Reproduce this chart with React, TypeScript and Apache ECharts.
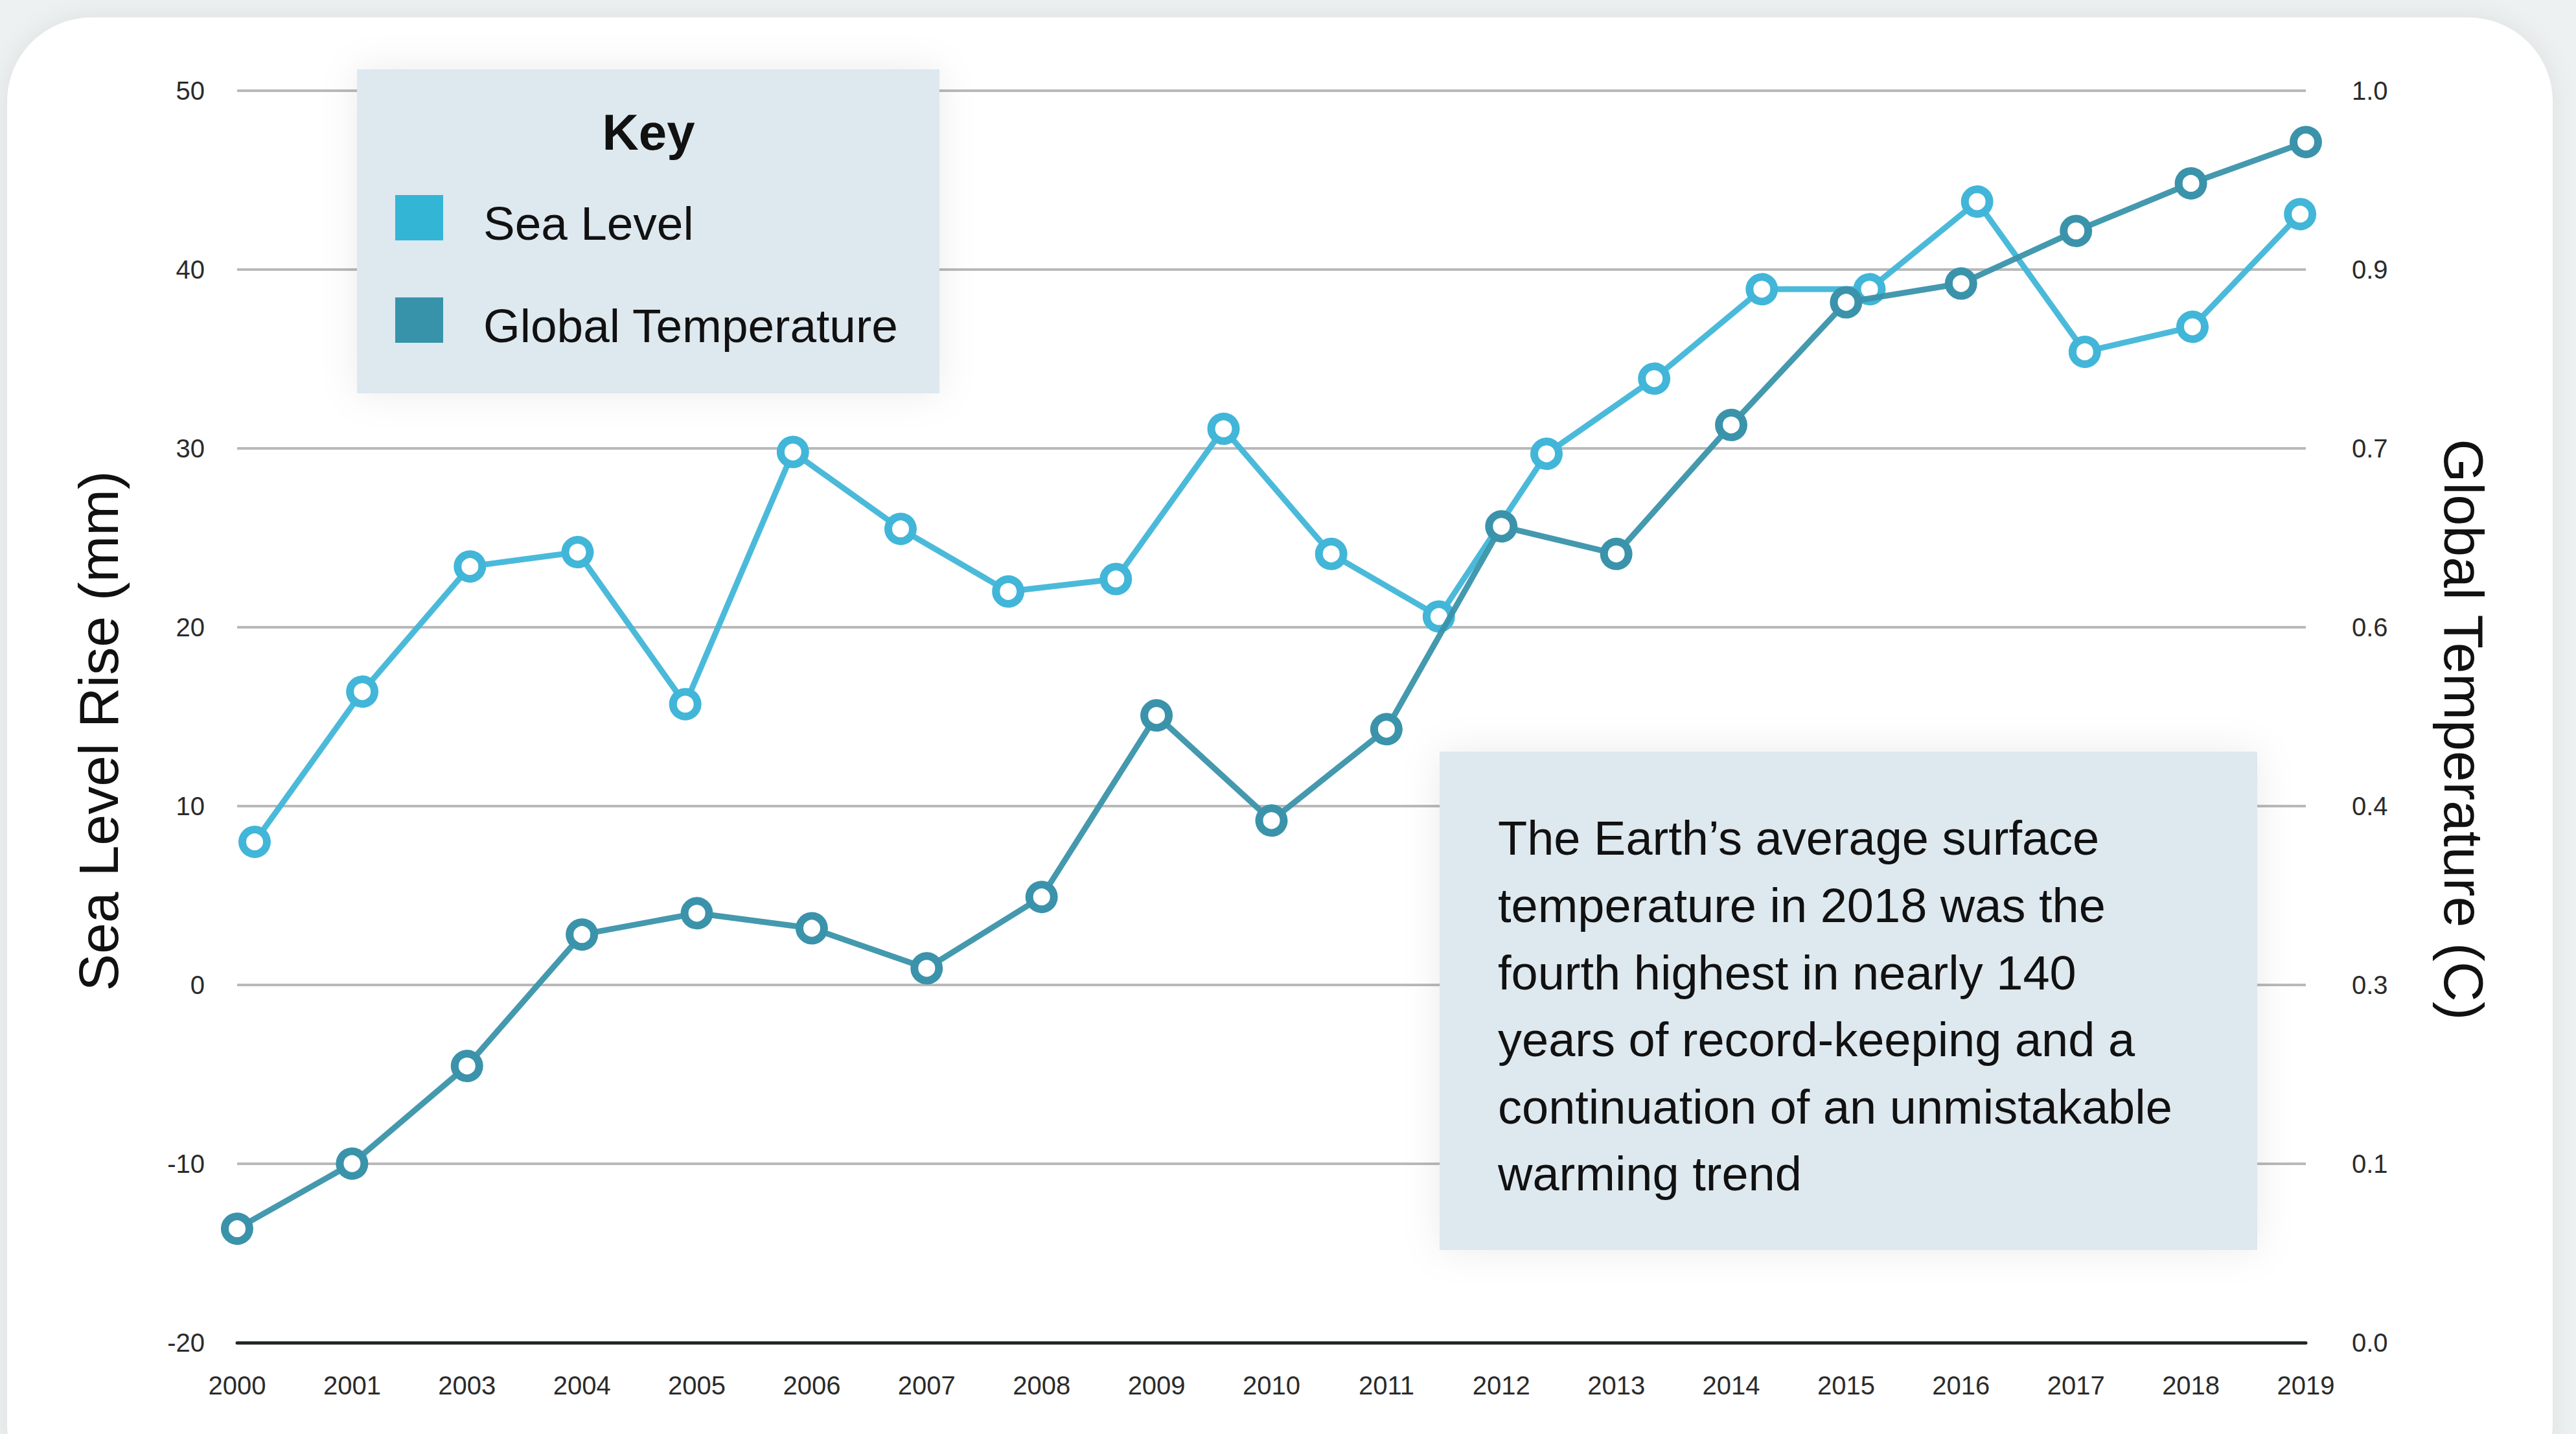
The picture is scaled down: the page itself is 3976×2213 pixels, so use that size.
import React, { useEffect, useRef } from 'react';
import * as echarts from 'echarts';

// ---- data ----
const years = ['2000', '2001', '2003', '2004', '2005', '2006', '2007', '2008', '2009', '2010', '2011', '2012', '2013', '2014', '2015', '2016', '2017', '2018', '2019'];
const globalTemperature = [0.091, 0.143, 0.221, 0.326, 0.343, 0.331, 0.299, 0.356, 0.501, 0.417, 0.49, 0.652, 0.63, 0.733, 0.831, 0.846, 0.888, 0.926, 0.959];
const seaLevel = [8.0, 16.4, 23.4, 24.2, 15.7, 29.8, 25.5, 22.0, 22.7, 31.1, 24.1, 20.6, 29.7, 33.9, 38.9, 38.9, 43.8, 35.4, 36.8, 43.1];
const seaAxis = { min: -20, max: 50, interval: 10 };
const tempAxis = { min: 0, max: 1, steps: 7 };
const keyTitle = 'Key';
const seriesNames = ['Sea Level', 'Global Temperature'];
const leftTitle = 'Sea Level Rise (mm)';
const rightTitle = 'Global Temperature (C)';
const noteLines = [
  'The Earth\u2019s average surface',
  'temperature in 2018 was the',
  'fourth highest in nearly 140',
  'years of record-keeping and a',
  'continuation of an unmistakable',
  'warming trend',
];

const FONT = '"Liberation Sans", Arial, Helvetica, sans-serif';
const SEA_COLOR = '#41b6d8';
const TEMP_COLOR = '#3a93aa';
const SEA_SWATCH = '#33b5d6';
const TEMP_SWATCH = '#3793aa';
const BOX_FILL = '#dee8ef';

export default function App() {
  const ref = useRef<HTMLDivElement>(null);

  useEffect(() => {
    document.body.style.margin = '0';
    const chart = echarts.init(ref.current as HTMLDivElement, null, { renderer: 'svg', width: 3976, height: 2213 });

    const option: any = {
      animation: false,
      backgroundColor: '#eef1f1',
      textStyle: { fontFamily: FONT },
      grid: { left: 366, right: 417, top: 140, bottom: 141, containLabel: false },
      xAxis: [
        {
          type: 'category',
          data: years,
          boundaryGap: false,
          axisLine: { show: true, onZero: false, lineStyle: { color: '#222826', width: 5 } },
          axisTick: { show: false },
          axisLabel: { interval: 0, fontSize: 40, color: '#2b2b2b', margin: 46, fontFamily: FONT },
          splitLine: { show: false },
        },
        {
          type: 'value',
          min: -0.1625,
          max: 19.053,
          show: false,
          splitLine: { show: false },
        },
      ],
      yAxis: [
        {
          type: 'value',
          min: seaAxis.min,
          max: seaAxis.max,
          interval: seaAxis.interval,
          axisLine: { show: false },
          axisTick: { show: false },
          axisLabel: { fontSize: 40, color: '#2b2b2b', margin: 50, fontFamily: FONT },
          splitLine: { show: true, lineStyle: { color: '#b9b9b9', width: 4 } },
        },
        {
          type: 'value',
          position: 'right',
          min: tempAxis.min,
          max: tempAxis.max,
          interval: (tempAxis.max - tempAxis.min) / tempAxis.steps,
          axisLine: { show: false },
          axisTick: { show: false },
          splitLine: { show: false },
          axisLabel: {
            fontSize: 40,
            color: '#2b2b2b',
            margin: 71,
            fontFamily: FONT,
            formatter: (v: number) => v.toFixed(1),
          },
        },
      ],
      series: [
        {
          name: seriesNames[0],
          type: 'line',
          xAxisIndex: 1,
          yAxisIndex: 0,
          data: seaLevel.map((v, i) => [i, v]),
          symbol: 'circle',
          symbolSize: 38,
          itemStyle: { color: '#ffffff', borderColor: SEA_COLOR, borderWidth: 12 },
          lineStyle: { color: SEA_COLOR, width: 9, opacity: 0.95 },
          z: 3,
        },
        {
          name: seriesNames[1],
          type: 'line',
          xAxisIndex: 0,
          yAxisIndex: 1,
          data: globalTemperature,
          symbol: 'circle',
          symbolSize: 38,
          itemStyle: { color: '#ffffff', borderColor: TEMP_COLOR, borderWidth: 12 },
          lineStyle: { color: TEMP_COLOR, width: 9, opacity: 0.95 },
          z: 4,
        },
      ],
      graphic: [
        {
          type: 'rect',
          z: -10,
          silent: true,
          shape: { x: 11, y: 27, width: 3929, height: 2300, r: 130 },
          style: { fill: '#ffffff', shadowBlur: 40, shadowColor: 'rgba(0,0,0,0.07)' },
        },
        // Key box
        {
          type: 'rect',
          z: 50,
          shape: { x: 551, y: 107, width: 899, height: 500 },
          style: { fill: BOX_FILL, shadowBlur: 60, shadowColor: 'rgba(0,0,0,0.08)' },
        },
        {
          type: 'text',
          z: 51,
          x: 1001,
          y: 204,
          style: { text: keyTitle, fontSize: 78, fontWeight: 'bold', fill: '#111', align: 'center', verticalAlign: 'middle', fontFamily: FONT },
        },
        {
          type: 'rect',
          z: 51,
          shape: { x: 610, y: 301, width: 74, height: 70 },
          style: { fill: SEA_SWATCH },
        },
        {
          type: 'text',
          z: 51,
          x: 746,
          y: 344,
          style: { text: seriesNames[0], fontSize: 73, fill: '#111', align: 'left', verticalAlign: 'middle', fontFamily: FONT },
        },
        {
          type: 'rect',
          z: 51,
          shape: { x: 610, y: 459, width: 74, height: 70 },
          style: { fill: TEMP_SWATCH },
        },
        {
          type: 'text',
          z: 51,
          x: 746,
          y: 502,
          style: { text: seriesNames[1], fontSize: 73, fill: '#111', align: 'left', verticalAlign: 'middle', fontFamily: FONT },
        },
        // Note box
        {
          type: 'rect',
          z: 50,
          shape: { x: 2222, y: 1160, width: 1262, height: 769 },
          style: { fill: BOX_FILL, shadowBlur: 60, shadowColor: 'rgba(0,0,0,0.08)' },
        },
        {
          type: 'text',
          z: 51,
          x: 2312,
          y: 1242,
          style: {
            text: noteLines.join('\n'),
            fontSize: 74,
            lineHeight: 103.6,
            fill: '#111',
            align: 'left',
            verticalAlign: 'top',
            fontFamily: FONT,
          },
        },
        // Axis titles
        {
          type: 'text',
          z: 20,
          x: 152,
          y: 1128,
          rotation: Math.PI / 2,
          style: { text: leftTitle, fontSize: 86, fill: '#111', align: 'center', verticalAlign: 'middle', fontFamily: FONT },
        },
        {
          type: 'text',
          z: 20,
          x: 3803,
          y: 1126,
          rotation: -Math.PI / 2,
          style: { text: rightTitle, fontSize: 86, fill: '#111', align: 'center', verticalAlign: 'middle', fontFamily: FONT },
        },
      ],
    };

    chart.setOption(option);
    return () => chart.dispose();
  }, []);

  return <div ref={ref} style={{ position: 'absolute', left: 0, top: 0, width: 3976, height: 2213 }} />;
}
